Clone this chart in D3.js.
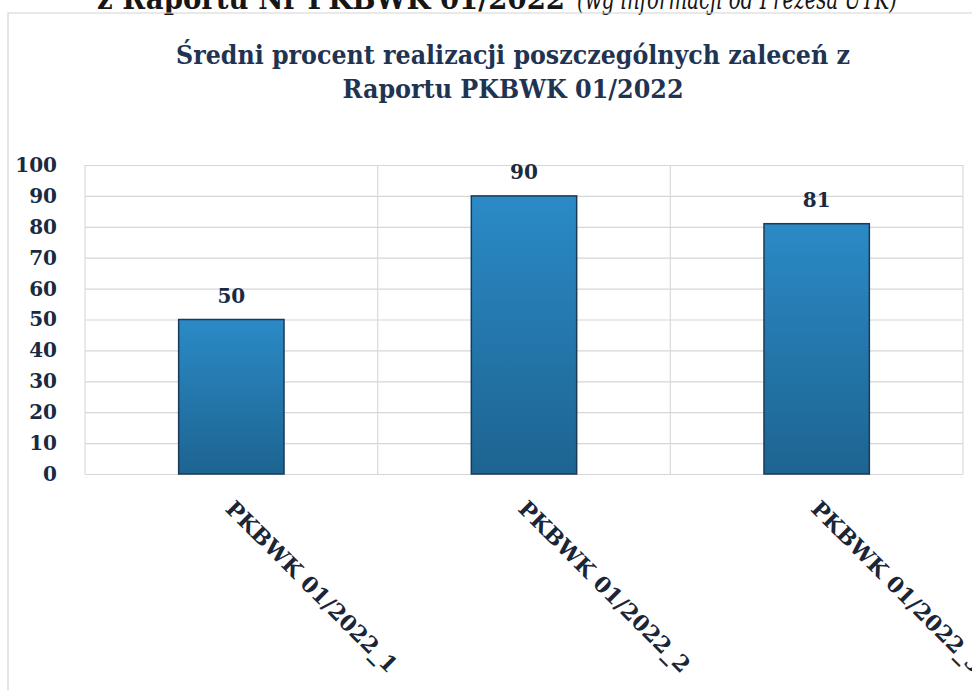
<!DOCTYPE html>
<html>
<head>
<meta charset="utf-8">
<script src="https://cdn.jsdelivr.net/npm/d3@7"></script>
<style>
  html, body { margin: 0; padding: 0; background: #ffffff; }
  svg { display: block; }
</style>
</head>
<body>
<svg id="chart" width="972" height="690"></svg>
<script>
// ---- data ----
const categories = ["PKBWK 01/2022_1", "PKBWK 01/2022_2", "PKBWK 01/2022_3"];
const values = [50, 90, 81];
const yTicks = [0, 10, 20, 30, 40, 50, 60, 70, 80, 90, 100];
const titleLines = ["Średni procent realizacji poszczególnych zaleceń z", "Raportu PKBWK 01/2022"];
const headerBold = "z Raportu Nr PKBWK 01/2022";
const headerItalic = "(wg informacji od Prezesa UTK)";

// ---- layout ----
const W = 972, H = 690;
const plot = { left: 85, right: 963, top: 165, bottom: 474 };
const serif = "'DejaVu Serif', 'Liberation Serif', serif";
const serifCond = "'DejaVu Serif Condensed', 'DejaVu Serif', serif";

const svg = d3.select("#chart");
svg.append("rect").attr("width", W).attr("height", H).attr("fill", "#ffffff");

// page header (cut off at top, as in the scanned source)
svg.append("text")
  .attr("x", 97).attr("y", 9)
  .attr("textLength", 468).attr("lengthAdjust", "spacingAndGlyphs")
  .style("font-family", serifCond).style("font-weight", "bold").style("font-size", "29px")
  .attr("fill", "#161616").text(headerBold);
svg.append("text")
  .attr("x", 577).attr("y", 9)
  .attr("textLength", 320).attr("lengthAdjust", "spacingAndGlyphs")
  .style("font-family", serifCond).style("font-style", "italic").style("font-size", "29px")
  .attr("fill", "#161616").text(headerItalic);

// chart frame
svg.append("path")
  .attr("d", `M8,${H} L8,13 L${W},13`)
  .attr("fill", "none").attr("stroke", "#d4d4d4").attr("stroke-width", 1.2);

// title
const titleWidths = [674, 341];
const titleY = [64, 98];
titleLines.forEach((t, i) => {
  svg.append("text")
    .attr("x", 513).attr("y", titleY[i])
    .attr("text-anchor", "middle")
    .attr("textLength", titleWidths[i]).attr("lengthAdjust", "spacingAndGlyphs")
    .style("font-family", serifCond).style("font-weight", "bold").style("font-size", "26px")
    .attr("fill", "#1f3452").text(t);
});

// scales
const x = d3.scaleBand().domain(categories)
  .range([plot.left, plot.right]).paddingInner(0.64).paddingOuter(0.32);
const y = d3.scaleLinear().domain([0, 100]).range([plot.bottom, plot.top]);

// horizontal gridlines
const grid = svg.append("g").attr("transform", `translate(${plot.left},0)`)
  .call(d3.axisLeft(y).tickValues(yTicks).tickSize(-(plot.right - plot.left)).tickFormat(""));
grid.select(".domain").remove();
grid.selectAll("line").attr("stroke", "#d6d6d6").attr("stroke-width", 1.2);

// vertical gridlines at category boundaries
const step = x.step();
const boundaries = d3.range(categories.length + 1).map(i => plot.left + i * step);
svg.append("g").selectAll("line").data(boundaries).join("line")
  .attr("x1", d => d).attr("x2", d => d)
  .attr("y1", plot.top).attr("y2", plot.bottom)
  .attr("stroke", "#dadada").attr("stroke-width", 1.2);

// y axis labels
const yAxis = svg.append("g").attr("transform", `translate(${plot.left},0)`)
  .call(d3.axisLeft(y).tickValues(yTicks).tickSize(0).tickPadding(28));
yAxis.select(".domain").remove();
yAxis.selectAll("text")
  .style("font-family", serif).style("font-weight", "bold").style("font-size", "20px")
  .attr("fill", "#1a2a40");

// bar gradient
const defs = svg.append("defs");
const grad = defs.append("linearGradient").attr("id", "barGrad")
  .attr("x1", 0).attr("y1", 0).attr("x2", 0).attr("y2", 1);
grad.append("stop").attr("offset", "0%").attr("stop-color", "#2b8ac6");
grad.append("stop").attr("offset", "100%").attr("stop-color", "#1d6491");

// bars
svg.append("g").selectAll("rect").data(values).join("rect")
  .attr("x", (d, i) => x(categories[i]))
  .attr("y", d => y(d))
  .attr("width", x.bandwidth())
  .attr("height", d => y(0) - y(d))
  .attr("fill", "url(#barGrad)")
  .attr("stroke", "#1b3a58").attr("stroke-width", 1.5);

// data labels
svg.append("g").selectAll("text").data(values).join("text")
  .attr("x", (d, i) => x(categories[i]) + x.bandwidth() / 2)
  .attr("y", d => y(d) - 17)
  .attr("text-anchor", "middle")
  .style("font-family", serif).style("font-weight", "bold").style("font-size", "20px")
  .attr("fill", "#1a2a40")
  .text(d => d);

// category labels, rotated 45°
svg.append("g").selectAll("text").data(categories).join("text")
  .attr("transform", d => `translate(${x(d) + x.bandwidth() / 2 - 7},510) rotate(45)`)
  .attr("text-anchor", "start")
  .style("font-family", serif).style("font-weight", "bold").style("font-size", "22px")
  .attr("fill", "#1a2536")
  .text(d => d);
</script>
</body>
</html>
